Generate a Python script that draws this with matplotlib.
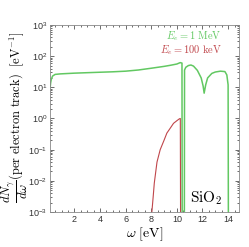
import numpy as np
import matplotlib.pyplot as plt
from matplotlib.ticker import LogLocator, MultipleLocator, NullFormatter

plt.rcParams['mathtext.fontset'] = 'cm'
plt.rcParams['font.family'] = ['Liberation Sans', 'DejaVu Sans']

# values
omega_1mev = [0.12, 0.15, 0.2, 0.3, 0.5, 0.9, 2, 3, 4, 5, 6, 7, 8, 9, 9.5, 10, 10.26, 10.4, 10.42,
              10.58, 10.6, 10.7, 10.9, 11.1, 11.3, 11.6, 11.9, 12.05, 12.13, 12.25, 12.4, 12.73, 13.0,
              13.4, 13.75, 13.9, 14.0, 14.03]
dn_1mev = [10.5, 14, 18, 23, 26, 27, 28.5, 29.5, 30.5, 31.5, 33, 36, 41, 47, 51, 56, 62, 60, 1e-5,
           1e-5, 36, 44, 50, 52, 48, 35, 20, 11, 6.5, 12, 20, 28, 31, 33, 32, 25, 12, 1e-5]

omega_100kev = [8.05, 8.15, 8.24, 8.45, 8.7, 9.0, 9.22, 9.5, 9.74, 10.0, 10.2, 10.27, 10.3]
dn_100kev = [1e-3, 3e-3, 8.5e-3, 0.04, 0.1, 0.2, 0.34, 0.5, 0.7, 0.85, 0.98, 1.0, 1e-5]

green = '#62c862'
red = '#c0464b'

fig = plt.figure(figsize=(2.49, 2.47), dpi=100)
ax = fig.add_axes([50 / 249, 1 - 212 / 247, 189 / 249, 187 / 247])

ax.plot(omega_1mev, dn_1mev, color=green, lw=1.1)
ax.plot(omega_100kev, dn_100kev, color=red, lw=0.8)

ax.set_yscale('log')
ax.set_xlim(0.1, 14.85)
ax.set_ylim(1e-3, 1e3)
ax.xaxis.set_major_locator(MultipleLocator(2))
ax.xaxis.set_minor_locator(MultipleLocator(0.5))
ax.yaxis.set_major_locator(LogLocator(base=10, numticks=10))
ax.yaxis.set_minor_locator(LogLocator(base=10, subs=np.arange(2, 10), numticks=10))
ax.yaxis.set_minor_formatter(NullFormatter())
ax.tick_params(which='both', direction='in', top=True, right=True, labelsize=6.5, colors='#333333',
               width=0.5, pad=2)
ax.tick_params(which='major', length=3)
ax.tick_params(which='minor', length=1.5)
for s in ax.spines.values():
    s.set_color('#888888')
    s.set_linewidth(0.6)

ax.set_xlabel(r'$\omega\ [\mathrm{eV}]$', fontsize=10, labelpad=1)
ax.set_ylabel(r'$\dfrac{dN_\gamma}{d\omega}\mathrm{(per\ electron\ track)}\ \ [\mathrm{eV}^{-1}]$',
              fontsize=9, labelpad=0)
ax.yaxis.set_label_coords(-0.108, 0.505)

ax.text(0.91, 0.94, r'$E_e = 1\ \mathrm{MeV}$', color=green, fontsize=7.5, ha='right', va='center',
        transform=ax.transAxes)
ax.text(0.91, 0.866, r'$E_e = 100\ \mathrm{keV}$', color=red, fontsize=7.5, ha='right', va='center',
        transform=ax.transAxes)
ax.text(0.91, 0.075, r'$\mathrm{SiO_2}$', fontsize=11, ha='right', va='center', transform=ax.transAxes)

fig.savefig('out.png', dpi=100)
